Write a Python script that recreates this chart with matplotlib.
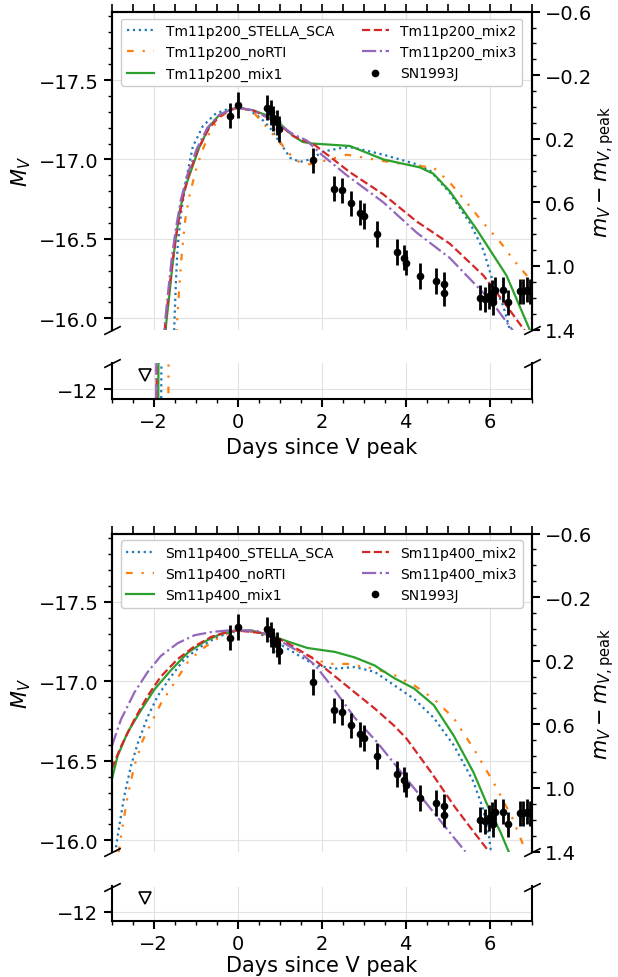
import matplotlib
matplotlib.use("Agg")
import matplotlib.pyplot as plt
from matplotlib.ticker import MultipleLocator, FixedLocator

# ---------------- data ----------------
PEAK = -17.33

obs_x = [-0.18, 0.01, 0.70, 0.79, 0.85, 0.94, 0.99, 1.79, 2.30, 2.48, 2.70, 2.90, 3.01,
         3.31, 3.80, 3.96, 4.00, 4.34, 4.71, 4.90, 4.90, 5.77, 5.89, 5.98, 6.06, 6.12,
         6.08, 6.32, 6.44, 6.72, 6.80, 6.88, 6.95]
obs_M = [-17.275, -17.342, -17.327, -17.296, -17.258, -17.233, -17.191, -16.995, -16.817,
         -16.806, -16.724, -16.666, -16.644, -16.53, -16.417, -16.382, -16.35, -16.266,
         -16.235, -16.214, -16.161, -16.13, -16.12, -16.14, -16.16, -16.18, -16.10, -16.18,
         -16.10, -16.17, -16.17, -16.18, -16.17]
obs_err = [0.08] * len(obs_x)
lim_x = [-2.21]
lim_M = [-12.09]

# Top panel (Tm11p200)
t_sca_x = [-1.83, -1.81, -1.51, -1.47, -1.43, -1.35, -1.23, -1.07, -0.83, -0.52, -0.20, 0.0,
           0.28, 0.55, 0.77, 0.97, 1.25, 1.48, 1.72, 2.04, 2.52, 2.75, 3.47, 4.26, 4.58, 5.05,
           5.53, 5.85, 6.09, 6.32, 6.48]
t_sca_M = [-11.5, -12.5, -15.95, -16.24, -16.45, -16.66, -16.87, -17.08, -17.21, -17.29, -17.32,
           -17.33, -17.31, -17.26, -17.20, -17.12, -17.01, -16.985, -17.0, -17.05, -17.075,
           -17.075, -17.03, -16.97, -16.93, -16.79, -16.60, -16.43, -16.22, -16.08, -15.93]
t_nor_x = [-1.66, -1.64, -1.45, -1.39, -1.33, -1.25, -1.15, -1.0, -0.85, -0.67, -0.44, -0.2, 0.0,
           0.36, 0.57, 0.8, 1.01, 1.17, 1.48, 1.72, 2.2, 2.6, 3.47, 4.26, 4.66, 5.05, 5.45, 5.85,
           6.25, 6.56, 6.88, 7.05]
t_nor_M = [-11.5, -12.5, -15.95, -16.2, -16.41, -16.62, -16.77, -16.93, -17.05, -17.17, -17.26,
           -17.31, -17.33, -17.30, -17.24, -17.17, -17.11, -17.05, -16.98, -16.97, -17.0, -17.03,
           -16.99, -16.96, -16.95, -16.855, -16.73, -16.60, -16.48, -16.37, -16.27, -16.21]
t_mx1_x = [-1.90, -1.88, -1.71, -1.63, -1.56, -1.48, -1.39, -1.27, -1.11, -0.91, -0.67, -0.44,
           -0.20, 0.0, 0.36, 0.67, 0.99, 1.31, 1.55, 1.79, 2.04, 2.67, 3.47, 4.34, 4.66, 5.05,
           5.69, 6.40, 6.95]
t_mx1_M = [-11.5, -12.5, -15.95, -16.14, -16.32, -16.49, -16.66, -16.81, -16.93, -17.08, -17.21,
           -17.28, -17.31, -17.325, -17.31, -17.28, -17.23, -17.15, -17.11, -17.10, -17.096,
           -17.085, -17.00, -16.95, -16.91, -16.80, -16.56, -16.27, -15.93]
t_mx2_x = [-1.94, -1.92, -1.73, -1.64, -1.55, -1.45, -1.33, -1.17, -0.95, -0.70, -0.44, -0.20,
           0.0, 0.36, 0.67, 0.99, 1.31, 1.55, 1.79, 2.28, 2.67, 3.47, 4.26, 5.05, 5.85, 6.40, 6.84]
t_mx2_M = [-11.5, -12.5, -15.95, -16.16, -16.36, -16.55, -16.73, -16.90, -17.06, -17.19, -17.27,
           -17.31, -17.325, -17.31, -17.27, -17.22, -17.15, -17.12, -17.10, -17.0, -16.92, -16.78,
           -16.61, -16.47, -16.27, -16.08, -15.92]
t_mx3_x = [-1.95, -1.93, -1.74, -1.66, -1.57, -1.47, -1.35, -1.19, -0.97, -0.72, -0.44, -0.2,
           0.0, 0.36, 0.67, 0.99, 1.31, 1.64, 2.0, 2.6, 3.47, 4.26, 5.05, 5.85, 6.17, 6.56]
t_mx3_M = [-11.5, -12.5, -15.95, -16.16, -16.38, -16.57, -16.75, -16.91, -17.07, -17.20, -17.28,
           -17.31, -17.325, -17.31, -17.27, -17.22, -17.16, -17.12, -17.03, -16.90, -16.73,
           -16.54, -16.38, -16.16, -16.06, -15.92]

# Bottom panel (Sm11p400)
s_sca_x = [-2.92, -2.82, -2.70, -2.54, -2.38, -2.14, -1.90, -1.59, -1.27, -0.87, -0.48, 0.0,
           0.44, 0.91, 1.47, 1.85, 2.32, 2.79, 3.26, 3.73, 4.2, 4.67, 5.14, 5.61, 5.84, 5.98, 6.03]
s_sca_M = [-15.92, -16.09, -16.28, -16.47, -16.61, -16.78, -16.91, -17.03, -17.14, -17.22,
           -17.28, -17.32, -17.31, -17.25, -17.16, -17.10, -17.08, -17.09, -17.06, -16.975,
           -16.89, -16.77, -16.60, -16.37, -16.2, -16.03, -15.93]
s_nor_x = [-2.84, -2.74, -2.62, -2.46, -2.26, -2.02, -1.83, -1.51, -1.19, -0.87, -0.48, -0.08,
           0.4, 0.91, 1.47, 2.13, 2.6, 3.26, 3.73, 4.2, 4.67, 5.14, 5.61, 6.08, 6.54, 6.83]
s_nor_M = [-15.92, -16.09, -16.28, -16.47, -16.63, -16.76, -16.86, -16.99, -17.12, -17.20,
           -17.27, -17.32, -17.31, -17.27, -17.185, -17.11, -17.11, -17.08, -17.04, -16.975,
           -16.89, -16.77, -16.58, -16.37, -16.14, -15.95]
s_mx1_x = [-3.0, -2.86, -2.62, -2.30, -1.98, -1.59, -1.19, -0.79, -0.40, 0.0, 0.32, 0.79, 1.2,
           1.66, 2.32, 2.79, 3.26, 3.73, 4.2, 4.67, 5.14, 5.61, 5.98, 6.26, 6.45]
s_mx1_M = [-16.38, -16.53, -16.68, -16.82, -16.95, -17.07, -17.18, -17.25, -17.30, -17.32,
           -17.32, -17.29, -17.25, -17.21, -17.185, -17.15, -17.10, -17.02, -16.955, -16.85,
           -16.66, -16.43, -16.2, -16.05, -15.93]
s_mx2_x = [-3.0, -2.78, -2.46, -2.14, -1.83, -1.43, -1.03, -0.63, -0.24, 0.0, 0.72, 1.19, 1.76,
           2.23, 2.79, 3.26, 3.73, 4.02, 4.6, 5.17, 5.6, 5.98]
s_mx2_M = [-16.45, -16.59, -16.76, -16.91, -17.03, -17.14, -17.22, -17.28, -17.31, -17.32,
           -17.30, -17.24, -17.15, -17.05, -16.93, -16.83, -16.72, -16.64, -16.43, -16.21,
           -16.06, -15.93]
s_mx3_x = [-3.0, -2.78, -2.46, -2.14, -1.83, -1.43, -1.03, -0.63, -0.24, 0.0, 0.44, 0.91, 1.47,
           1.85, 2.32, 2.79, 3.31, 3.98, 4.5, 5.17, 5.42]
s_mx3_M = [-16.59, -16.76, -16.93, -17.06, -17.16, -17.24, -17.29, -17.31, -17.32, -17.32,
           -17.32, -17.27, -17.185, -17.10, -16.94, -16.77, -16.62, -16.40, -16.23, -16.01, -15.93]

x_ticks = [-2, 0, 2, 4, 6]
right_ticks = [-0.6, -0.2, 0.2, 0.6, 1.0, 1.4]

# ---------------- styles ----------------
ORANGE_LS = (0, (3, 4, 1, 4, 1, 4))
styles = [dict(color='C0', ls=':'), dict(color='C1', ls=ORANGE_LS), dict(color='C2', ls='-'),
          dict(color='C3', ls='--'), dict(color='C4', ls='-.')]
suffixes = ['STELLA_SCA', 'noRTI', 'mix1', 'mix2', 'mix3']

panels = [
    ('Tm11p200', [(t_sca_x, t_sca_M), (t_nor_x, t_nor_M), (t_mx1_x, t_mx1_M),
                  (t_mx2_x, t_mx2_M), (t_mx3_x, t_mx3_M)]),
    ('Sm11p400', [(s_sca_x, s_sca_M), (s_nor_x, s_nor_M), (s_mx1_x, s_mx1_M),
                  (s_mx2_x, s_mx2_M), (s_mx3_x, s_mx3_M)]),
]

W, H = 618, 978
fig = plt.figure(figsize=(W / 100, H / 100), dpi=100)

def rect(left, top, right, bottom):
    return [left / W, 1 - bottom / H, (right - left) / W, (bottom - top) / H]

layout = [
    (rect(111.7, 12.7, 531.7, 330.5), rect(111.7, 363.5, 531.7, 400), 4),
    (rect(111.7, 534.5, 531.7, 852.5), rect(111.7, 887.5, 531.7, 922), 1),
]

TICK_FS = 14
LAB_FS = 15
lw_sp = 1.5
grid_kw = dict(color='#e2e2e2', lw=0.8)

for (name, curves), (r_main, r_low, xpad) in zip(panels, layout):
    ax = fig.add_axes(r_main)
    axl = fig.add_axes(r_low, sharex=ax)
    for a in (ax, axl):
        for (cx, cy), st in zip(curves, styles):
            a.plot(cx, cy, lw=1.6, **st)
        a.errorbar(obs_x, obs_M, yerr=obs_err, fmt='none', ecolor='k', elinewidth=2, zorder=5)
        a.plot(obs_x, obs_M, 'o', color='k', ms=4.5, zorder=6)
        a.plot(lim_x, lim_M, 'v', mfc='white', mec='k', ms=8, mew=1.2, zorder=6)
        a.grid(True, **grid_kw)
        a.set_axisbelow(True)
        for s in a.spines.values():
            s.set_linewidth(lw_sp)
    # legend handles
    handles = []
    for suf, st in zip(suffixes, styles):
        h, = ax.plot([], [], lw=1.6, label=f'{name}_{suf}', **st)
        handles.append(h)
    h, = ax.plot([], [], 'o', color='k', ms=4.5, label='SN1993J')
    handles.append(h)
    ax.legend(handles=handles, ncol=2, loc='upper center', fontsize=10, framealpha=1,
              bbox_to_anchor=(0.5, 1.0))

    ax.set_xlim(-3, 7)
    ax.set_ylim(PEAK + 1.4, PEAK - 0.6)
    axl.set_ylim(-11.94, -12.17)

    ax.spines['bottom'].set_visible(False)
    axl.spines['top'].set_visible(False)

    ax.xaxis.tick_top()
    ax.xaxis.set_major_locator(FixedLocator(x_ticks))
    ax.tick_params(axis='x', which='both', labeltop=False, labelbottom=False,
                   direction='out', length=6, width=1.2)
    ax.yaxis.set_major_locator(MultipleLocator(0.5))
    ax.yaxis.set_minor_locator(MultipleLocator(0.1))
    ax.tick_params(axis='y', which='major', labelsize=TICK_FS, length=6, width=1.5)
    ax.tick_params(axis='y', which='minor', length=3, width=1)
    ax.set_ylabel(r'$M_V$', fontsize=LAB_FS)

    axl.xaxis.set_major_locator(FixedLocator(x_ticks))
    axl.xaxis.set_minor_locator(MultipleLocator(0.5))
    axl.yaxis.set_major_locator(FixedLocator([-12]))
    axl.tick_params(axis='both', which='major', labelsize=TICK_FS, length=6, width=1.5)
    axl.tick_params(axis='both', which='minor', length=3, width=1)
    axl.set_xlabel('Days since V peak', fontsize=LAB_FS, labelpad=xpad)

    ax2 = ax.twinx()
    ax2.set_ylim(1.4, -0.6)
    ax2.yaxis.set_major_locator(FixedLocator(right_ticks))
    ax2.yaxis.set_minor_locator(MultipleLocator(0.1))
    ax2.tick_params(axis='y', which='major', labelsize=TICK_FS, length=6, width=1.5)
    ax2.tick_params(axis='y', which='minor', length=3, width=1)
    ax2.spines['bottom'].set_visible(False)
    for s in ax2.spines.values():
        s.set_linewidth(lw_sp)
    ax2.set_ylabel(r'$m_V - m_{V,\mathrm{peak}}$', fontsize=LAB_FS, labelpad=1)

    # break marks
    d = 0.5
    kw = dict(marker=[(-1, -d), (1, d)], markersize=12, linestyle='none', color='k',
              mec='k', mew=1.2, clip_on=False)
    ax.plot([0, 1], [0, 0], transform=ax.transAxes, **kw)
    axl.plot([0, 1], [1, 1], transform=axl.transAxes, **kw)

fig.savefig('out.png', dpi=100)
